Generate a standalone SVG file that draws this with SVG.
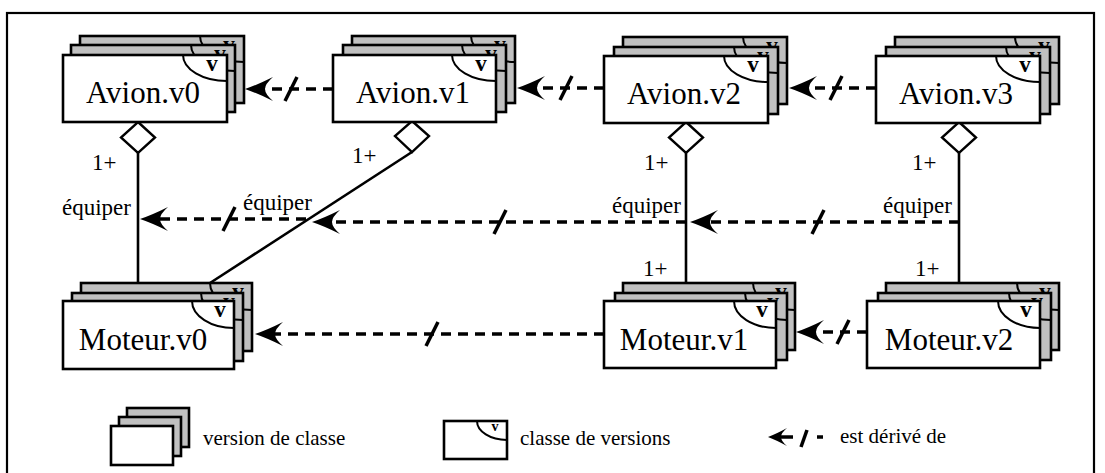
<svg xmlns="http://www.w3.org/2000/svg" width="1105" height="473" viewBox="0 0 1105 473">
<style>
  text{font-family:'Liberation Serif','Times New Roman','DejaVu Serif',serif}
  .frame{fill:none;stroke:#000;stroke-width:2.2}
  .back{fill:#c0c0c0;stroke:#000;stroke-width:2.6}
  .front{fill:#fff;stroke:#000;stroke-width:2.6}
  .arc{fill:none;stroke:#000;stroke-width:2}
  .v{font-weight:bold;font-size:23px;text-anchor:middle}
  .name{font-size:31px;text-anchor:middle}
  .lbl{font-size:23px}
  .leg{font-size:21px}
  .solid{fill:none;stroke:#000;stroke-width:2.6}
  .diam{fill:#fff;stroke:#000;stroke-width:2.4}
  .dash{fill:none;stroke:#000;stroke-width:3.5;stroke-dasharray:10 7}
  .slash{stroke:#000;stroke-width:3.5}
  .tick{stroke:#000;stroke-width:3.5}
</style>
<defs>
  <marker id="arr" markerUnits="userSpaceOnUse" markerWidth="1" markerHeight="1" overflow="visible" orient="auto" refX="0" refY="0">
    <path d="M6,0 Q-6,-4 -22,-12 Q-14,-5 -14,0 Q-14,5 -22,12 Q-6,4 6,0 Z" fill="#000"/>
  </marker>
</defs>
<rect class="frame" x="7" y="13" width="1087" height="475"/>

<g id="connectors">
  <line class="solid" x1="138" y1="152" x2="138" y2="283"/>
  <line class="solid" x1="412" y1="152" x2="210" y2="283" stroke-width="3"/>
  <line class="solid" x1="686" y1="153" x2="686" y2="283"/>
  <line class="solid" x1="959" y1="153" x2="959" y2="283"/>
  <path class="diam" d="M138,122 L155,137.5 L138,153 L121,137.5 Z"/>
  <path class="diam" d="M412,121 L429,136 L412,152 L395,136 Z"/>
  <path class="diam" d="M686,122 L703,137.5 L686,153 L669,137.5 Z"/>
  <path class="diam" d="M959,122 L976,137.5 L959,153 L942,137.5 Z"/>

  <path class="dash" d="M333,89 H251" marker-end="url(#arr)"/>
  <path class="dash" d="M604,88 H523" marker-end="url(#arr)"/>
  <path class="dash" d="M876,88 H795" marker-end="url(#arr)"/>
  <path class="dash" d="M604,334 H261" marker-end="url(#arr)"/>
  <path class="dash" d="M867,332 H802" marker-end="url(#arr)"/>
  <path class="dash" d="M959,222 H696" marker-end="url(#arr)"/>
  <path class="dash" d="M686,222 H318" marker-end="url(#arr)"/>
  <path class="dash" d="M306,219 H146" marker-end="url(#arr)"/>

  <line class="slash" x1="285" y1="101" x2="297" y2="77"/>
  <line class="slash" x1="560" y1="100" x2="572" y2="76"/>
  <line class="slash" x1="830" y1="100" x2="842" y2="76"/>
  <line class="slash" x1="426" y1="346" x2="438" y2="322"/>
  <line class="slash" x1="837" y1="344" x2="849" y2="320"/>
  <line class="slash" x1="812" y1="234" x2="824" y2="210"/>
  <line class="slash" x1="494" y1="234" x2="506" y2="210"/>
  <line class="slash" x1="223" y1="231" x2="235" y2="207"/>

  <text class="lbl" x="92" y="170">1+</text>
  <text class="lbl" x="352" y="163">1+</text>
  <text class="lbl" x="644" y="170">1+</text>
  <text class="lbl" x="912" y="170">1+</text>
  <text class="lbl" x="643" y="276">1+</text>
  <text class="lbl" x="915" y="276">1+</text>
  <text class="lbl" x="62" y="215">équiper</text>
  <text class="lbl" x="243" y="210">équiper</text>
  <text class="lbl" x="612" y="213">équiper</text>
  <text class="lbl" x="883" y="213">équiper</text>
</g>

<g id="avion-v0" transform="translate(63,55)">
  <g transform="translate(17,-19)"><rect class="back" width="164" height="67"/><path class="arc" d="M120,0 A44,26 0 0 0 164,26"/><text class="v" x="149" y="16">v</text></g>
  <g transform="translate(8,-10)"><rect class="back" width="164" height="67"/><path class="arc" d="M120,0 A44,26 0 0 0 164,26"/><text class="v" x="149" y="16">v</text></g>
  <rect class="front" width="164" height="67"/><path class="arc" d="M120,0 A44,26 0 0 0 164,26"/><text class="v" x="149" y="16">v</text>
  <text class="name" x="80" y="48">Avion.v0</text>
</g>
<g id="avion-v1" transform="translate(333,55)">
  <g transform="translate(19,-19)"><rect class="back" width="163" height="67"/><path class="arc" d="M119,0 A44,26 0 0 0 163,26"/><text class="v" x="148" y="16">v</text></g>
  <g transform="translate(10,-10)"><rect class="back" width="163" height="67"/><path class="arc" d="M119,0 A44,26 0 0 0 163,26"/><text class="v" x="148" y="16">v</text></g>
  <rect class="front" width="163" height="67"/><path class="arc" d="M119,0 A44,26 0 0 0 163,26"/><text class="v" x="148" y="16">v</text>
  <text class="name" x="80" y="48">Avion.v1</text>
</g>
<g id="avion-v2" transform="translate(604,56)">
  <g transform="translate(19,-19)"><rect class="back" width="164" height="67"/><path class="arc" d="M120,0 A44,26 0 0 0 164,26"/><text class="v" x="149" y="16">v</text></g>
  <g transform="translate(10,-9)"><rect class="back" width="164" height="67"/><path class="arc" d="M120,0 A44,26 0 0 0 164,26"/><text class="v" x="149" y="16">v</text></g>
  <rect class="front" width="164" height="67"/><path class="arc" d="M120,0 A44,26 0 0 0 164,26"/><text class="v" x="149" y="16">v</text>
  <text class="name" x="80" y="48">Avion.v2</text>
</g>
<g id="avion-v3" transform="translate(876,56)">
  <g transform="translate(19,-19)"><rect class="back" width="164" height="67"/><path class="arc" d="M120,0 A44,26 0 0 0 164,26"/><text class="v" x="149" y="16">v</text></g>
  <g transform="translate(10,-9)"><rect class="back" width="164" height="67"/><path class="arc" d="M120,0 A44,26 0 0 0 164,26"/><text class="v" x="149" y="16">v</text></g>
  <rect class="front" width="164" height="67"/><path class="arc" d="M120,0 A44,26 0 0 0 164,26"/><text class="v" x="149" y="16">v</text>
  <text class="name" x="80" y="48">Avion.v3</text>
</g>

<g id="moteur-v0" transform="translate(63,301)">
  <g transform="translate(18,-18)"><rect class="back" width="171" height="68"/><path class="arc" d="M129,0 A42,27 0 0 0 171,27"/><text class="v" x="157" y="16">v</text></g>
  <g transform="translate(9,-8)"><rect class="back" width="171" height="68"/><path class="arc" d="M129,0 A42,27 0 0 0 171,27"/><text class="v" x="157" y="16">v</text></g>
  <rect class="front" width="171" height="68"/><path class="arc" d="M129,0 A42,27 0 0 0 171,27"/><text class="v" x="157" y="16">v</text>
  <text class="name" x="80" y="49">Moteur.v0</text>
</g>
<g id="moteur-v1" transform="translate(604,301)">
  <g transform="translate(19,-18)"><rect class="back" width="172" height="67"/><path class="arc" d="M130,0 A42,27 0 0 0 172,27"/><text class="v" x="158" y="16">v</text></g>
  <g transform="translate(11,-8)"><rect class="back" width="172" height="67"/><path class="arc" d="M130,0 A42,27 0 0 0 172,27"/><text class="v" x="158" y="16">v</text></g>
  <rect class="front" width="172" height="67"/><path class="arc" d="M130,0 A42,27 0 0 0 172,27"/><text class="v" x="158" y="16">v</text>
  <text class="name" x="80" y="49">Moteur.v1</text>
</g>
<g id="moteur-v2" transform="translate(867,301)">
  <g transform="translate(19,-18)"><rect class="back" width="173" height="67"/><path class="arc" d="M131,0 A42,27 0 0 0 173,27"/><text class="v" x="159" y="16">v</text></g>
  <g transform="translate(11,-8)"><rect class="back" width="173" height="67"/><path class="arc" d="M131,0 A42,27 0 0 0 173,27"/><text class="v" x="159" y="16">v</text></g>
  <rect class="front" width="173" height="67"/><path class="arc" d="M131,0 A42,27 0 0 0 173,27"/><text class="v" x="159" y="16">v</text>
  <text class="name" x="82" y="49">Moteur.v2</text>
</g>

<g id="legend">
  <rect class="back" x="127" y="408" width="62" height="39"/>
  <rect class="back" x="119" y="417" width="62" height="39"/>
  <rect class="front" x="111" y="426" width="62" height="39"/>
  <text class="leg" x="203" y="445">version de classe</text>
  <rect class="front" x="444" y="421" width="63" height="38"/>
  <path class="arc" d="M477,421 A30,19 0 0 0 507,440"/>
  <text class="v" x="495" y="431" style="font-size:14px">v</text>
  <text class="leg" x="520" y="445">classe de versions</text>
  <path d="M768,437 Q776,434 787,428 Q781,433 781,437 Q781,441 787,446 Q776,440 768,437 Z" fill="#000"/>
  <line class="tick" x1="781" y1="437" x2="793" y2="437"/>
  <line class="tick" x1="801" y1="447" x2="807" y2="430"/>
  <line class="tick" x1="817" y1="437" x2="823" y2="437"/>
  <text class="leg" x="840" y="443">est dérivé de</text>
</g>
</svg>
